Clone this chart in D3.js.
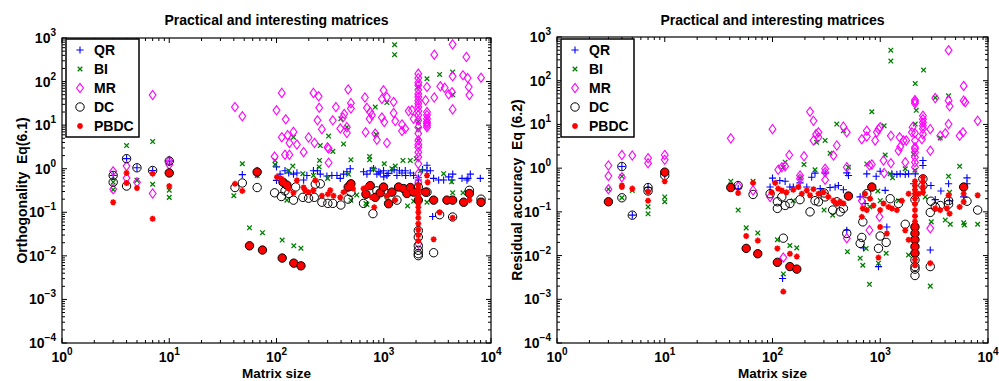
<!DOCTYPE html>
<html><head><meta charset="utf-8">
<script src="https://cdn.jsdelivr.net/npm/d3@7"></script>
<style>
body{margin:0;background:#fff;}
text{font-family:"Liberation Sans",Arial,Helvetica,sans-serif;font-weight:bold;fill:#000;}
</style></head>
<body><svg id="c" width="999" height="381"></svg>
<script>
// ---------- data (matrix size, value) ----------
const seriesNames = ["QR","BI","MR","DC","PBDC"];
const titleText = "Practical and interesting matrices";
const xLabel = "Matrix size";
const yLabels = ["Orthogonality  Eq(6.1)", "Residual accuracy  Eq (6.2)"];
const xTickExps = [0,1,2,3,4];
const yTickExps = [-4,-3,-2,-1,0,1,2,3];

// Panel 1: Orthogonality
const QR1 = [[3,0.7],[4,1.7],[5,1.05],[7,0.91],[10,1.5],[48,0.73],[66,0.73],[100,1.1],[100,0.54],[108,0.75],[120,0.9],[130,0.8],[144,0.75],[155,0.8],[179,0.55],[192,0.7],[221,0.9],[241,0.9],[256,0.75],[295,0.68],[328,0.7],[366,0.7],[393,0.6],[422,0.75],[453,0.85],[487,1.0],[648,0.85],[697,0.75],[748,0.9],[804,1.0],[863,0.75],[927,0.8],[996,0.9],[1071,0.7],[1191,0.9],[1327,0.7],[1479,0.8],[1587,0.9],[1767,0.8],[1897,0.7],[2100,0.55],[2100,0.45],[2100,0.62],[2530,1.2],[2530,0.9],[2717,0.9],[2918,0.6],[2856,0.08],[3250,0.55],[3617,0.55],[4030,0.65],[4328,0.55],[5366,0.6],[5970,0.55],[6415,0.75],[7950,0.6],[1100,0.78],[1250,0.95],[1600,0.7],[1000,0.65],[900,0.85],[1400,0.9],[2300,0.95],[6100,0.6],[4400,0.75]];
const BI1 = [[3,0.49],[3,0.33],[4,3.4],[5,0.54],[7,4.2],[7,0.44],[10,0.32],[10,0.22],[40,0.24],[48,1.3],[66,0.7],[56,0.044],[74,0.034],[113,0.023],[145,0.017],[169,0.015],[97,1.55],[97,1.25],[144,5.3],[142,1.15],[176,0.77],[221,0.7],[252,1.55],[250,1.1],[256,3.4],[306,5.6],[335,2.5],[422,3.7],[453,9.0],[398,14],[494,1.6],[494,0.19],[682,0.16],[738,1.9],[738,1.6],[833,26],[804,0.98],[1011,1.3],[1071,33],[1262,700],[1262,414],[1280,1.15],[1510,1.55],[1767,1.55],[2011,1.7],[2100,8],[2100,75],[2100,4.5],[2100,12],[2530,116],[2530,0.17],[3318,146],[3617,0.77],[4387,165],[4387,50],[4387,0.28],[5478,0.28],[8073,0.19],[1668,0.14],[1071,0.19],[697,0.15],[851,6.1],[125,0.19],[130,0.9],[300,0.6],[470,0.75],[560,0.25],[1190,1.0],[1900,0.18],[2200,0.9],[4300,0.5]];
const MR1 = [[3,0.87],[3,0.34],[4,1.15],[4,0.61],[5,0.49],[7,49],[7,0.27],[10,1.5],[10,1.24],[41,26],[48,16],[66,0.84],[96,1.9],[100,22],[112,55],[122,13.6],[112,5.3],[127,5.9],[120,2.1],[132,2.1],[132,3.9],[144,7],[155,3.6],[179,2.4],[199,5.2],[221,55],[226,3.9],[247,46],[250,25],[241,12.9],[265,8.1],[299,3.1],[306,1.37],[306,2.9],[335,12.9],[358,26],[393,8.4],[416,15],[428,18],[453,6.6],[466,66],[494,32],[494,24],[453,9],[667,43],[677,6.9],[697,25],[748,20],[738,14],[776,17],[833,6.4],[863,4.6],[961,40],[996,63],[1071,44],[1071,3.9],[961,15],[1011,11.8],[1236,34],[1236,19],[1280,12.4],[1479,10.4],[1479,7.3],[1587,8.3],[1706,21],[1832,22],[1897,14],[2100,152],[2100,120],[2100,95],[2100,82],[2100,65],[2100,52],[2100,44],[2100,37],[2100,31],[2100,26],[2100,21],[2100,17],[2100,12.9],[2100,9],[2100,6.4],[2100,4.5],[2100,3.6],[2100,3.1],[2100,2.4],[2100,1.85],[2100,1.3],[2100,0.77],[2100,0.49],[2100,0.019],[2456,37],[2530,20],[2530,17],[2530,14],[2530,12],[2530,11],[2530,10],[2530,9],[2530,75],[2958,414],[2958,43],[3368,78],[3697,72],[4030,51],[4328,57],[4387,714],[4387,132],[4387,23],[5478,139],[5891,366],[6055,120],[6194,75],[6282,49],[8073,123]];
const DC1 = [[3,0.7],[3,0.49],[4,1.7],[4,0.4],[5,1.05],[7,0.91],[10,1.5],[10,0.8],[41,0.37],[48,0.47],[66,0.37],[66,0.84],[56,0.017],[74,0.0136],[113,0.0089],[145,0.0068],[169,0.0059],[96,0.28],[111,0.23],[120,0.31],[130,0.27],[144,0.19],[151,0.38],[176,0.22],[199,0.21],[225,0.22],[230,0.44],[256,0.45],[265,0.17],[301,0.16],[335,0.16],[398,0.147],[466,0.2],[494,0.29],[648,0.16],[793,0.093],[863,0.31],[1071,0.27],[1327,0.19],[2100,0.038],[2100,0.027],[2100,0.017],[2100,0.0134],[2100,0.0112],[2100,0.0101],[2100,0.19],[2100,0.38],[2530,0.29],[2918,0.0118],[3318,0.088],[4387,0.078],[6282,0.32],[8073,0.2],[682,0.26],[748,0.41],[833,0.22],[927,0.28],[996,0.38],[1109,0.157],[1191,0.29],[1375,0.38],[1532,0.35],[1644,0.27],[1767,0.37],[1897,0.29],[2456,0.29],[2918,0.19],[3884,0.19],[4387,0.19],[5559,0.17],[6282,0.27],[8073,0.17],[466,0.38],[494,0.45],[115,0.49],[125,0.42]];
const PBDC1 = [[3,0.17],[4,0.8],[4,0.47],[5,0.36],[7,0.77],[7,0.071],[10,0.8],[10,0.4],[41,0.45],[48,0.31],[66,0.84],[56,0.017],[74,0.0136],[113,0.0089],[145,0.0068],[169,0.0059],[101,0.64],[111,0.59],[115,0.49],[120,0.45],[125,0.42],[130,0.35],[144,0.28],[155,0.54],[179,0.37],[185,0.32],[199,0.29],[221,0.32],[230,0.54],[265,0.24],[301,0.26],[317,0.32],[340,0.24],[393,0.22],[422,0.29],[466,0.38],[494,0.45],[516,0.35],[648,0.35],[682,0.26],[697,0.38],[748,0.41],[776,0.22],[815,0.13],[833,0.22],[927,0.28],[996,0.38],[1071,0.24],[1109,0.157],[1191,0.29],[1280,0.19],[1375,0.38],[1532,0.35],[1644,0.27],[1767,0.37],[1897,0.29],[2100,0.42],[2100,0.36],[2100,0.31],[2100,0.26],[2100,0.22],[2100,0.19],[2100,0.16],[2100,0.13],[2100,0.1],[2100,0.075],[2100,0.055],[2100,0.04],[2100,0.03],[2100,0.022],[2456,0.29],[2530,0.7],[2566,0.49],[2918,0.19],[2918,0.024],[3318,0.1],[3884,0.19],[4387,0.19],[4387,0.075],[5559,0.17],[6282,0.27],[6282,0.19],[8073,0.17]];

// Panel 2: Residual accuracy
const QR2 = [[4,1.09],[5,0.084],[7,0.36],[10,0.72],[48,0.34],[100,0.59],[95,0.37],[117,0.52],[131,0.5],[145,0.37],[156,0.37],[180,0.46],[208,0.37],[231,0.62],[248,0.77],[277,0.34],[308,0.77],[342,0.36],[381,0.37],[409,0.4],[455,0.32],[489,0.78],[507,0.68],[489,0.038],[651,0.22],[699,0.015],[724,0.155],[750,0.74],[916,0.65],[963,0.0056],[998,0.85],[1111,0.31],[1151,0.045],[1282,0.74],[1426,0.72],[1532,0.74],[1706,0.72],[1832,0.74],[2038,0.44],[2112,0.74],[2489,1.5],[2489,1.15],[2953,0.4],[2912,0.0134],[3240,0.19],[3655,0.3],[4306,0.44],[4402,0.18],[5945,0.22],[6383,0.6],[6383,0.44],[124,0.003]];
const BI2 = [[3,0.33],[4,0.65],[4,0.21],[5,0.31],[7,0.13],[7,0.09],[10,0.22],[10,0.17],[41,0.5],[48,0.11],[57,0.043],[73,0.033],[66,0.5],[111,0.023],[126,0.0038],[145,0.017],[168,0.015],[126,1.05],[131,1.37],[196,1.21],[156,0.18],[248,0.92],[257,3.9],[308,4.3],[301,0.11],[342,2.2],[362,0.084],[395,10.2],[455,7.2],[507,1.05],[496,0.0123],[651,0.0087],[689,0.006],[740,0.0146],[750,1.25],[794,0.0022],[835,19.5],[963,0.0067],[1111,2.0],[1087,9.3],[1135,0.0113],[1254,500],[1254,281],[1237,0.74],[1478,0.18],[1706,0.97],[1832,0.0103],[2112,86],[2158,21],[2112,10.2],[2038,2.1],[2524,175],[2616,0.22],[2912,0.002],[2974,0.059],[3240,41],[3603,4.9],[4306,45],[4306,0.65],[4012,0.065],[4467,0.052],[5455,1.1],[5945,0.056],[6030,0.05],[8017,0.052],[2100,0.9],[2100,0.35],[1300,0.6],[1000,0.18],[800,0.13],[180,0.6],[950,0.3],[4400,0.28]];
const MR2 = [[3,1.15],[3,0.66],[3,0.33],[4,2.0],[4,0.62],[5,1.94],[7,1.69],[7,1.3],[10,2.0],[10,1.55],[41,4.8],[48,0.38],[66,0.31],[100,7.8],[95,0.22],[113,0.92],[122,1.05],[131,1.11],[143,2.0],[126,0.009],[180,0.68],[180,0.57],[196,1.87],[223,19.5],[240,12.1],[254,6.0],[267,5.1],[267,6.6],[240,4.3],[308,0.81],[308,0.54],[308,0.97],[368,1.94],[395,3.3],[455,8.9],[489,6.6],[489,1.05],[489,0.025],[674,4.6],[674,0.18],[750,5.3],[750,7.2],[794,0.038],[794,1.15],[835,1.21],[897,4.3],[930,6.6],[963,7.8],[984,0.077],[998,8.6],[1072,1.5],[1087,0.77],[1254,5.5],[1254,1.3],[1478,2.5],[1511,5.1],[1532,3.1],[1645,4.3],[1706,1.37],[1743,4.3],[1967,6.6],[1995,8.6],[2100,36],[2100,33],[2100,30],[2100,6.3],[2100,4.3],[2100,3.0],[2100,2.3],[2100,1.78],[2100,1.37],[2100,1.05],[2100,2.75],[2489,15.8],[2489,13.2],[2489,11.1],[2489,9.3],[2489,8.0],[2489,6.0],[2436,4.6],[2912,2.5],[2912,7.8],[2912,0.042],[3240,40],[3603,5.5],[4306,500],[4306,35],[4402,26],[4306,10.2],[4012,6.3],[5455,5.5],[5945,76],[5945,35],[6155,32],[5859,6.6],[8017,12.1]];
const DC2 = [[3,0.17],[4,1.09],[4,0.21],[5,0.084],[7,0.36],[7,0.3],[10,0.81],[10,0.68],[41,0.36],[48,0.4],[66,0.25],[57,0.0146],[73,0.011],[111,0.007],[126,0.025],[145,0.0056],[168,0.0049],[95,0.26],[111,0.17],[111,0.12],[122,0.22],[131,0.14],[145,0.155],[180,0.19],[223,0.1],[248,0.18],[267,0.17],[301,0.27],[308,0.22],[362,0.11],[395,0.17],[424,0.1],[455,0.12],[507,0.23],[489,0.032],[651,0.019],[674,0.026],[689,0.059],[750,0.26],[835,0.37],[963,0.0146],[998,0.028],[1135,0.02],[1237,0.2],[1478,0.155],[1706,0.052],[2100,0.045],[2100,0.032],[2100,0.023],[2100,0.016],[2100,0.0113],[2100,0.0079],[2100,0.0056],[2100,0.0049],[2100,0.0035],[2100,0.19],[2489,0.57],[2489,0.4],[2912,0.097],[2912,0.0056],[2953,0.175],[3240,0.13],[3603,0.14],[4306,0.15],[4306,0.18],[5945,0.37],[6383,0.175],[8017,0.11]];
const PBDC2 = [[3,0.17],[4,0.4],[4,0.37],[5,0.34],[7,0.29],[7,0.18],[10,0.81],[10,0.5],[41,0.36],[48,0.27],[57,0.028],[57,0.0146],[66,0.46],[73,0.022],[73,0.011],[111,0.0146],[111,0.007],[126,0.0015],[145,0.011],[145,0.0056],[168,0.0095],[168,0.0049],[98,0.28],[106,0.46],[113,0.34],[122,0.31],[135,0.28],[156,0.32],[174,0.37],[187,0.26],[208,0.31],[223,0.24],[240,0.33],[267,0.26],[297,0.28],[330,0.22],[368,0.18],[395,0.155],[424,0.17],[455,0.155],[507,0.23],[674,0.077],[689,0.12],[724,0.26],[750,0.11],[806,0.2],[835,0.37],[865,0.14],[963,0.009],[998,0.045],[998,0.11],[1072,0.155],[1151,0.032],[1194,0.13],[1282,0.12],[1426,0.11],[1588,0.18],[1706,0.038],[1832,0.023],[1832,0.26],[2100,0.5],[2100,0.4],[2100,0.32],[2100,0.26],[2100,0.2],[2100,0.15],[2100,0.11],[2100,0.08],[2100,0.06],[2100,0.045],[2100,0.032],[2100,0.023],[2100,0.016],[2100,0.0113],[2100,0.008],[2100,0.006],[2268,0.26],[2489,0.62],[2489,0.48],[2489,0.37],[2489,0.28],[2912,0.0067],[3240,0.12],[3603,0.11],[4155,0.12],[4306,0.24],[4402,0.091],[5455,0.13],[5945,0.37],[5945,0.26],[5945,0.17],[8017,0.24]];

const panelData = [[QR1,BI1,MR1,DC1,PBDC1],[QR2,BI2,MR2,DC2,PBDC2]];

// ---------- layout ----------
const panels = [
  {x0:62, x1:491, y0:38, y1:343, ylabX:22, legX:66},
  {x0:557, x1:988, y0:37, y1:343, ylabX:517, legX:561}
];
const colors = {QR:"#0000ff", BI:"#008000", MR:"#ff00ff", DC:"#000000", PBDC:"#ff0000"};

const svg = d3.select("#c");

function markerPath(type, cx, cy){
  const p = d3.path();
  if(type==="QR"){ const h=3.6; p.moveTo(cx-h,cy); p.lineTo(cx+h,cy); p.moveTo(cx,cy-h); p.lineTo(cx,cy+h); }
  else if(type==="BI"){ const h=2.3; p.moveTo(cx-h,cy-h); p.lineTo(cx+h,cy+h); p.moveTo(cx-h,cy+h); p.lineTo(cx+h,cy-h); }
  else if(type==="MR"){ p.moveTo(cx,cy-4.6); p.lineTo(cx+3.4,cy); p.lineTo(cx,cy+4.6); p.lineTo(cx-3.4,cy); p.closePath(); }
  else if(type==="PBDC"){ const h=3.0, d=2.1; p.moveTo(cx-h,cy); p.lineTo(cx+h,cy); p.moveTo(cx,cy-h); p.lineTo(cx,cy+h); p.moveTo(cx-d,cy-d); p.lineTo(cx+d,cy+d); p.moveTo(cx-d,cy+d); p.lineTo(cx+d,cy-d); }
  return p.toString();
}

function drawMarker(g, type, cx, cy, filled){
  if(type==="DC"){
    g.append("circle").attr("cx",cx).attr("cy",cy).attr("r",4.2)
      .attr("fill", filled ? "#ff0000" : "none").attr("stroke","#000").attr("stroke-width",1);
  } else {
    g.append("path").attr("d", markerPath(type,cx,cy))
      .attr("fill","none").attr("stroke",colors[type])
      .attr("stroke-width", type==="PBDC"?1.6:(type==="BI"?1.3:1.1));
  }
}

panels.forEach((P, pi) => {
  const x = d3.scaleLog().domain([1,1e4]).range([P.x0,P.x1]);
  const y = d3.scaleLog().domain([1e-4,1e3]).range([P.y1,P.y0]);
  const g = svg.append("g");

  // data
  const data = panelData[pi];
  const pb = data[4];
  seriesNames.forEach((name, si) => {
    const gs = g.append("g");
    data[si].forEach(([n,v]) => {
      let filled = false;
      if(name==="DC") filled = pb.some(q => q[0]===n && q[1]===v);
      drawMarker(gs, name, x(n), y(v), filled);
    });
  });

  // frame
  g.append("rect").attr("x",P.x0).attr("y",P.y0).attr("width",P.x1-P.x0).attr("height",P.y1-P.y0)
    .attr("fill","none").attr("stroke","#000").attr("stroke-width",1.2);

  // ticks
  const tk = g.append("g").attr("stroke","#000").attr("stroke-width",1);
  for(let e=0;e<=4;e++){
    for(let m=1;m<=9;m++){
      const v = m*Math.pow(10,e); if(v>1e4) break;
      const px = x(v), len = m===1?5:3;
      tk.append("line").attr("x1",px).attr("x2",px).attr("y1",P.y1).attr("y2",P.y1-len);
      tk.append("line").attr("x1",px).attr("x2",px).attr("y1",P.y0).attr("y2",P.y0+len);
    }
  }
  for(let e=-4;e<=3;e++){
    for(let m=1;m<=9;m++){
      const v = m*Math.pow(10,e); if(v>1e3) break;
      const py = y(v), len = m===1?5:3;
      tk.append("line").attr("y1",py).attr("y2",py).attr("x1",P.x0).attr("x2",P.x0+len);
      tk.append("line").attr("y1",py).attr("y2",py).attr("x1",P.x1).attr("x2",P.x1-len);
    }
  }

  // tick labels
  const fmtExp = e => (e<0 ? "\u2212"+Math.abs(e) : String(e));
  xTickExps.forEach(e => {
    const t = g.append("text").attr("x", x(Math.pow(10,e))).attr("y", P.y1+19)
      .attr("text-anchor","middle").style("font-size","14px");
    t.append("tspan").text("10");
    t.append("tspan").attr("dy",-7).style("font-size","10px").text(fmtExp(e));
  });
  yTickExps.forEach(e => {
    const t = g.append("text").attr("x", P.x0-6).attr("y", y(Math.pow(10,e))+5)
      .attr("text-anchor","end").style("font-size","14px");
    t.append("tspan").text("10");
    t.append("tspan").attr("dy",-7).style("font-size","10px").text(fmtExp(e));
  });

  // titles & labels
  const cx = (P.x0+P.x1)/2;
  g.append("text").attr("x",cx).attr("y",25).attr("text-anchor","middle").style("font-size","14px").text(titleText);
  g.append("text").attr("x",cx).attr("y",377.5).attr("text-anchor","middle").style("font-size","13.5px").text(xLabel);
  g.append("text").attr("transform",`translate(${P.ylabX+5},${(P.y0+P.y1)/2}) rotate(-90)`)
    .attr("text-anchor","middle").style("font-size","14px").style("white-space","pre").text(yLabels[pi]);

  // legend
  const lg = g.append("g");
  const lx = P.legX, ly = 39;
  lg.append("rect").attr("x",lx).attr("y",ly).attr("width",73).attr("height",98)
    .attr("fill","#fff").attr("stroke","#000").attr("stroke-width",1.5);
  seriesNames.forEach((name, i) => {
    const yy = ly + 11 + i*19;
    drawMarker(lg, name, lx+14, yy, false);
    lg.append("text").attr("x",lx+28).attr("y",yy+5).style("font-size","14px").text(name);
  });
});
</script></body></html>
